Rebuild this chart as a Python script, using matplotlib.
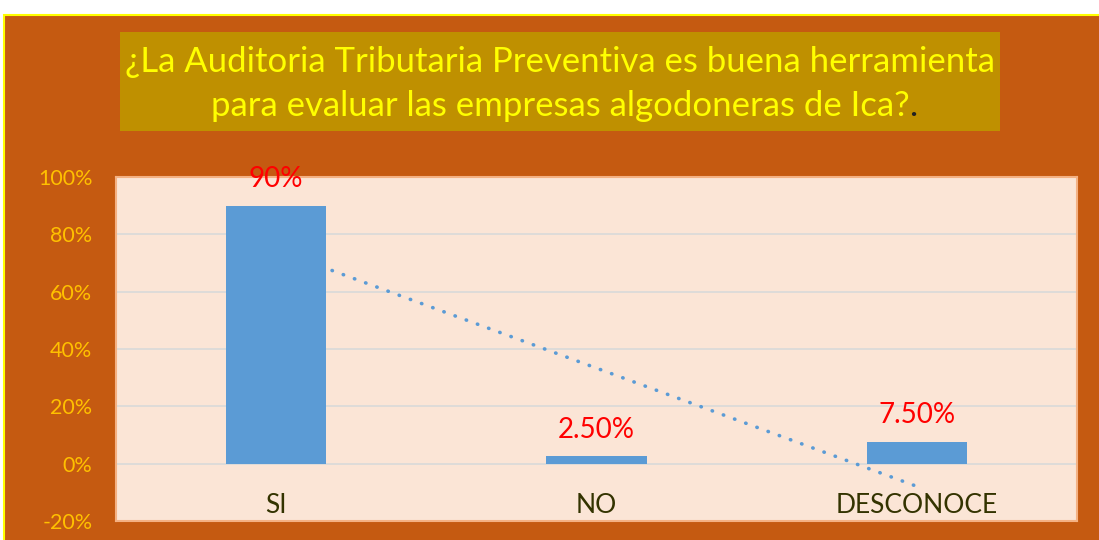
import numpy as np
import matplotlib.pyplot as plt
from matplotlib.patches import Rectangle
from matplotlib.ticker import FuncFormatter

# Data
categories = ['SI', 'NO', 'DESCONOCE']
values = [0.90, 0.025, 0.075]
value_labels = ['90%', '2.50%', '7.50%']
title_line1 = '¿La Auditoria Tributaria Preventiva es buena herramienta'
title_line2 = 'para evaluar las empresas algodoneras de Ica?'

plt.rcParams['font.family'] = ['Lato', 'DejaVu Sans']

W, H = 1099, 540
fig = plt.figure(figsize=(W / 100, H / 100), dpi=100)
fig.patch.set_facecolor('white')

# Orange frame with yellow border
fig.patches.append(Rectangle((4 / W, -0.01), 1.0, (H - 15) / H + 0.01,
                             transform=fig.transFigure, facecolor='#C55A11',
                             edgecolor='#FFFF00', linewidth=1.5, zorder=0))

# Title box
fig.patches.append(Rectangle((120 / W, (H - 131) / H), 880 / W, 99 / H,
                             transform=fig.transFigure, facecolor='#BF9000',
                             edgecolor='none', zorder=1))
fig.text(560 / W, (H - 62) / H, title_line1, color='#FFFF00', fontsize=25,
         ha='center', va='center', zorder=3)
t2 = fig.text(560 / W, (H - 106) / H, title_line2, color='#FFFF00', fontsize=25,
              ha='center', va='center', zorder=3)
fig.canvas.draw()
bb = t2.get_window_extent()
fig.text(bb.x1 / W, (H - 106) / H, '.', color='#222222', fontsize=25,
         ha='left', va='center', zorder=3)

ax = fig.add_axes([116 / W, (H - 521) / H, 961 / W, 344 / H])
ax.set_zorder(2)
ax.set_facecolor('#FBE5D6')
for s in ax.spines.values():
    s.set_color('#F4B183')
    s.set_linewidth(1.5)

x = np.arange(len(categories))
ax.bar(x, values, width=0.3125, color='#5B9BD5', zorder=3)

# linear trend line
coef = np.polyfit(x, values, 1)
ax.plot(x, np.polyval(coef, x), linestyle=(0, (0.1, 3.2)), color='#5B9BD5',
        linewidth=2.6, zorder=2, dash_capstyle='round')

for xi, v, lab in zip(x, values, value_labels):
    ax.annotate(lab, (xi, v), xytext=(0, 10), textcoords='offset points',
                ha='center', va='bottom', color='#FF0000', fontsize=20,
                annotation_clip=False)

ax.set_xlim(-0.5, 2.5)
ax.set_ylim(-0.2, 1.0)
ax.set_yticks(np.arange(-0.2, 1.01, 0.2))
ax.yaxis.set_major_formatter(FuncFormatter(lambda v, p: f'{v * 100:.0f}%'))
ax.tick_params(axis='y', length=0, labelsize=15.5, labelcolor='#FFC000', pad=17)
ax.grid(axis='y', color='#D9D9D9', linewidth=1.2, zorder=1)
ax.set_axisbelow(True)

ax.set_xticks(x)
ax.set_xticklabels(categories)
ax.tick_params(axis='x', length=0, labelsize=19, labelcolor='#333300', pad=-20)

fig.savefig('out.png', dpi=100)
